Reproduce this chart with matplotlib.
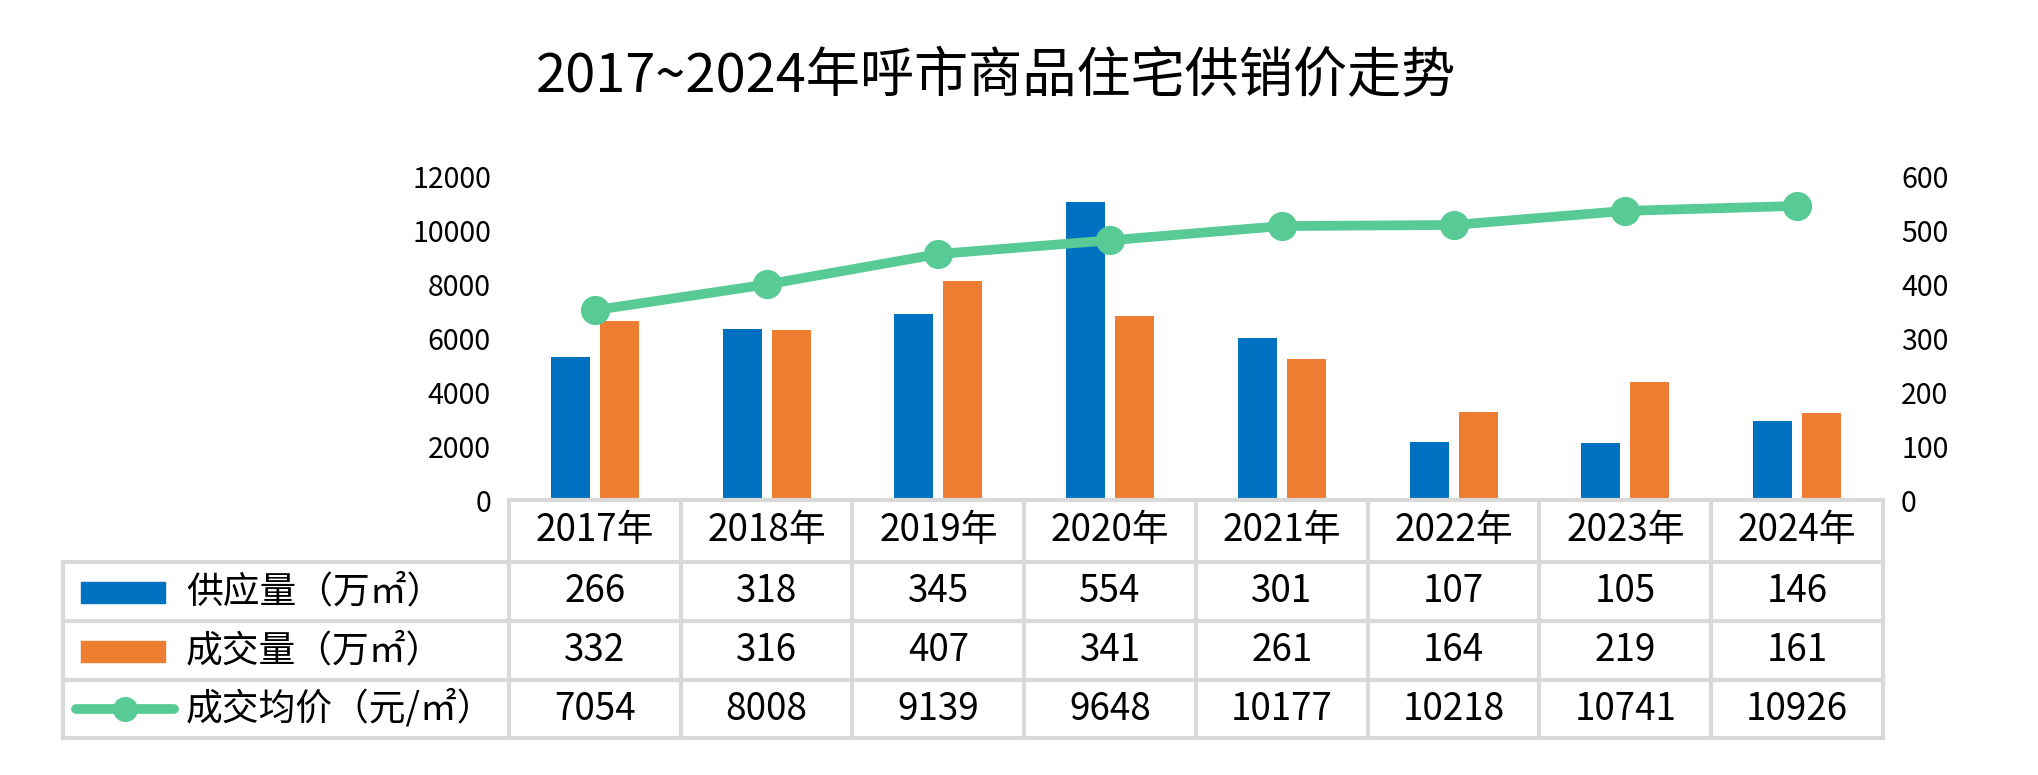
import numpy as np
import matplotlib.pyplot as plt
from matplotlib.patches import Rectangle

plt.rcParams['font.family'] = ['Noto Sans CJK SC', 'DejaVu Sans']

# data
years = ['2017年', '2018年', '2019年', '2020年', '2021年', '2022年', '2023年', '2024年']
supply = [266, 318, 345, 554, 301, 107, 105, 146]        # 万㎡
sales = [332, 316, 407, 341, 261, 164, 219, 161]         # 万㎡
price = [7054, 8008, 9139, 9648, 10177, 10218, 10741, 10926]  # 元/㎡
row_labels = ['供应量（万㎡）', '成交量（万㎡）', '成交均价（元/㎡）']
title = '2017~2024年呼市商品住宅供销价走势'

blue = '#0070C0'
orange = '#ED7D31'
green = '#57CA95'
grid_c = '#D9D9D9'

W, H = 2038, 775
fig = plt.figure(figsize=(W / 100, H / 100), dpi=100)

# plot area in pixels
x0, x1, y_top, y_bot = 509, 1883, 177, 500
col_w = (x1 - x0) / len(years)

ax = fig.add_axes([x0 / W, 1 - y_bot / H, (x1 - x0) / W, (y_bot - y_top) / H])
x = np.arange(len(years))
bw = 0.227
ax.bar(x - 0.143, supply, bw, color=blue, zorder=2)
ax.bar(x + 0.143, sales, bw, color=orange, zorder=2)
ax.set_xlim(-0.5, len(years) - 0.5)
ax.set_ylim(0, 600)
ax.set_yticks(range(0, 601, 100))
ax.set_xticks([])

ax2 = ax.twinx()
ax2.plot(x, price, color=green, lw=7, marker='o', ms=20, zorder=3)
ax2.set_ylim(0, 12000)
ax2.set_yticks(range(0, 12001, 2000))
# bars read on the right axis, price on the left one
ax.yaxis.tick_right()
ax2.yaxis.tick_left()
for a in (ax, ax2):
    a.tick_params(axis='y', length=0, pad=13, labelsize=20.5)
    for s in a.spines.values():
        s.set_visible(False)

# data table below the chart, drawn in pixel coords
tax = fig.add_axes([0, 0, 1, 1])
tax.set_xlim(0, W)
tax.set_ylim(H, 0)
tax.axis('off')
tax.patch.set_visible(False)

left = 63
rows = [500, 562, 621, 680, 738]
lw = 3
tax.plot([x0, x1], [rows[0], rows[0]], color=grid_c, lw=lw)
for yy in rows[1:]:
    tax.plot([left, x1], [yy, yy], color=grid_c, lw=lw)
tax.plot([left, left], [rows[1], rows[-1]], color=grid_c, lw=lw)
for i in range(len(years) + 1):
    xx = x0 + i * col_w
    tax.plot([xx, xx], [rows[0], rows[-1]], color=grid_c, lw=lw)

fs = 26.5
for i, yr in enumerate(years):
    cx = x0 + (i + 0.5) * col_w
    tax.text(cx, (rows[0] + rows[1]) / 2, yr, ha='center', va='center', fontsize=fs)
    for r, vals in enumerate([supply, sales, price]):
        cy = (rows[r + 1] + rows[r + 2]) / 2
        tax.text(cx, cy, str(vals[i]), ha='center', va='center', fontsize=fs)

# legend keys inside the table
for r, lab in enumerate(row_labels):
    cy = (rows[r + 1] + rows[r + 2]) / 2
    tax.text(186, cy, lab, ha='left', va='center', fontsize=fs)
tax.add_patch(Rectangle((81, (rows[1] + rows[2]) / 2 - 10), 84, 21, color=blue))
tax.add_patch(Rectangle((81, (rows[2] + rows[3]) / 2 - 10), 84, 21, color=orange))
cy = (rows[3] + rows[4]) / 2
tax.plot([76, 174], [cy, cy], color=green, lw=7, solid_capstyle='round')
tax.plot([125], [cy], 'o', color=green, ms=17)

fig.text(996 / W, 1 - 77 / H, title, ha='center', va='center', fontsize=39)

fig.savefig('out.png', dpi=100)
